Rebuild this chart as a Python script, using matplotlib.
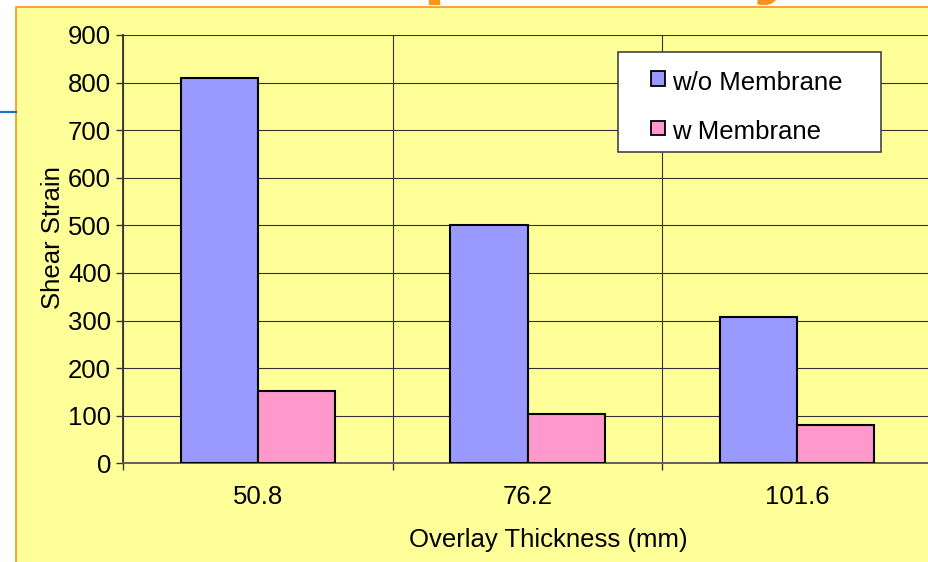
import matplotlib
matplotlib.use("Agg")
import matplotlib.pyplot as plt
from matplotlib.patches import Rectangle
from matplotlib.lines import Line2D
import numpy as np

plt.rcParams['font.family'] = ['Liberation Sans', 'DejaVu Sans']

# ---- data ----
categories = ["50.8", "76.2", "101.6"]
series_names = ["w/o Membrane", "w Membrane"]
wo_membrane = [809, 500, 307]
w_membrane = [152, 104, 80]
y_ticks = [0, 100, 200, 300, 400, 500, 600, 700, 800, 900]
x_label = "Overlay Thickness (mm)"
y_label = "Shear Strain"

# ---- styles ----
W, H = 929, 562
colors = ["#9999FF", "#FF99CC"]
yellow = "#FFFF99"
orange = "#F7941D"
fs = 18.5

def fx(x):
    return x / W

def fy(y):
    return 1 - y / H

fig = plt.figure(figsize=(W / 100, H / 100), dpi=100, facecolor="white")

# cut-off title fragments at the very top
fig.text(fx(422), fy(-12), "p", fontsize=60, fontweight="bold", color=orange,
         ha="left", va="baseline", zorder=0.2)
fig.text(fx(752), fy(-12), "y", fontsize=60, fontweight="bold", color=orange,
         ha="left", va="baseline", zorder=0.2)

# yellow chart area with orange border
fig.add_artist(Rectangle((fx(16), fy(580)), fx(940 - 16), 1 - fy(580) - (1 - fy(7)) + 0,
                         transform=fig.transFigure, facecolor=yellow,
                         edgecolor=orange, linewidth=1.2, zorder=0.5))
# blue line on the left of the slide
fig.add_artist(Line2D([fx(0), fx(16)], [fy(112), fy(112)], transform=fig.transFigure,
                      color="#1F6FC0", linewidth=1.6, zorder=0.6))

# axes
ax_left, ax_right, ax_top, ax_bottom = 123, 932, 35, 463.3
ax = fig.add_axes([fx(ax_left), fy(ax_bottom), fx(ax_right - ax_left),
                   fy(ax_top) - fy(ax_bottom)])
ax.set_zorder(1)
ax.patch.set_alpha(0)

x = np.arange(len(categories))
bw = 1 / 3.5
ax.bar(x - bw / 2, wo_membrane, width=bw, color=colors[0], edgecolor="black",
       linewidth=1.5, zorder=3)
ax.bar(x + bw / 2, w_membrane, width=bw, color=colors[1], edgecolor="black",
       linewidth=1.5, zorder=3)

ax.set_xlim(-0.5, len(categories) - 0.5)
ax.set_ylim(0, 900)
ax.set_yticks(y_ticks)
ax.set_yticklabels([str(v) for v in y_ticks], fontsize=fs)
ax.set_xticks(np.arange(len(categories) + 1) - 0.5)
ax.set_xticklabels([])
ax.set_xticks(x, minor=True)
ax.set_xticklabels(categories, minor=True, fontsize=fs)
ax.tick_params(axis="x", which="minor", length=0, pad=15.5)
ax.tick_params(axis="x", which="major", length=5, width=1, color="#333333", direction="out")
ax.tick_params(axis="y", length=5, width=1, color="#333333", direction="out", pad=3.5)

ax.grid(True, axis="y", color="#333333", linewidth=0.8, zorder=1)
ax.grid(True, axis="x", which="major", color="#333333", linewidth=0.8, zorder=1)
ax.set_axisbelow(True)
for s in ["top", "right"]:
    ax.spines[s].set_visible(False)
ax.spines["left"].set_color("#333333")
ax.spines["left"].set_linewidth(1.3)
ax.spines["bottom"].set_color("#555555")
ax.spines["bottom"].set_linewidth(1.3)

# axis titles
fig.text(fx(548), fy(547), x_label, fontsize=fs, ha="center", va="baseline")
fig.text(fx(60), fy(237.5), y_label, fontsize=fs, rotation=90,
         rotation_mode="anchor", ha="center", va="baseline")

# legend (manual, Excel-style)
lx0, ly0, lx1, ly1 = 618, 52, 881, 152
fig.add_artist(Rectangle((fx(lx0), fy(ly1)), fx(lx1 - lx0), fy(ly0) - fy(ly1),
                         transform=fig.transFigure, facecolor="white",
                         edgecolor="#444444", linewidth=1.2, zorder=4))
rows = [(71.5, 90), (121, 139.3)]
for (sq_top, base), name, c in zip(rows, series_names, colors):
    fig.add_artist(Rectangle((fx(651), fy(sq_top + 14)), fx(14), fy(sq_top) - fy(sq_top + 14),
                             transform=fig.transFigure, facecolor=c,
                             edgecolor="black", linewidth=1.3, zorder=5))
    fig.text(fx(672), fy(base), name, fontsize=fs, ha="left", va="baseline", zorder=5)

fig.savefig("out.png", dpi=100, facecolor="white")
